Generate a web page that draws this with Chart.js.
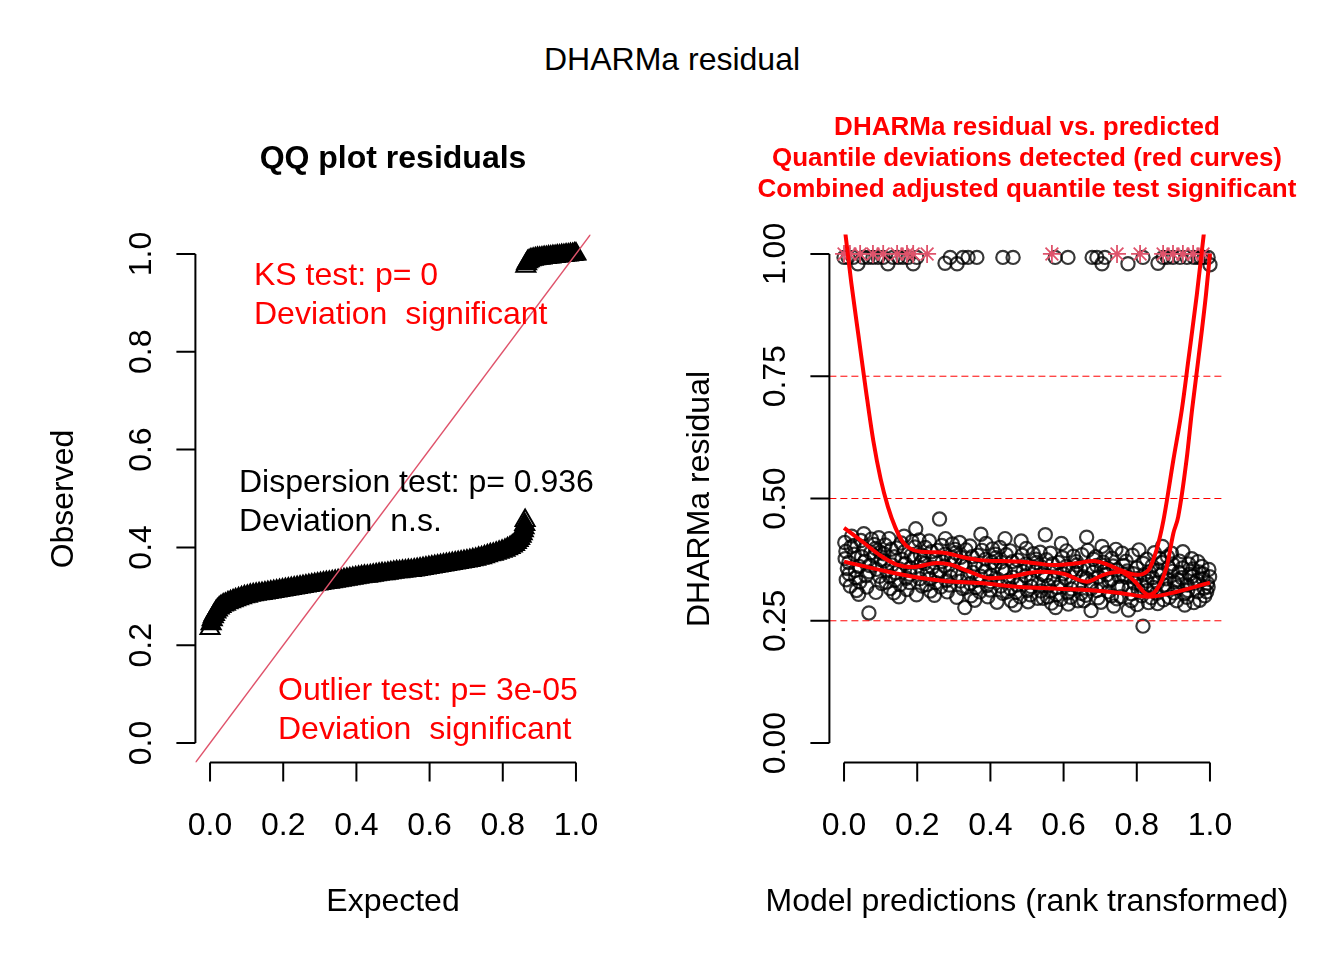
<!DOCTYPE html>
<html>
<head>
<meta charset="utf-8">
<script src="https://cdn.jsdelivr.net/npm/chart.js@4"></script>
<style>
html, body { margin: 0; padding: 0; background: #fff; }
#wrap { position: relative; width: 1344px; height: 960px; }
canvas { position: absolute; top: 0; }
#qq { left: 0; }
#res { left: 672px; }
#main { position: absolute; left: 0; top: 43px; width: 1344px; text-align: center;
        font: 32px/32px "Liberation Sans", Arial, sans-serif; color: #000; }
</style>
</head>
<body>
<div id="wrap">
  <div id="main">DHARMa residual</div>
  <canvas id="qq" width="672" height="960"></canvas>
  <canvas id="res" width="672" height="960"></canvas>
</div>
<script>
// ---- QQ plot (left) ----
// lower group of sorted residuals
const qqLowX = [0.000,0.003,0.006,0.009,0.012,0.016,0.020,0.025,0.030,0.036,0.042,0.049,0.056,0.063,0.070,0.078,0.086,0.094,0.102,0.110,0.118,0.126,0.134,0.142,0.150,0.158,0.166,0.174,0.182,0.190,0.198,0.206,0.214,0.222,0.230,0.238,0.246,0.254,0.262,0.270,0.278,0.286,0.294,0.302,0.310,0.318,0.326,0.334,0.342,0.350,0.358,0.366,0.374,0.382,0.390,0.398,0.406,0.414,0.422,0.430,0.438,0.446,0.454,0.462,0.470,0.478,0.486,0.494,0.502,0.510,0.518,0.526,0.534,0.542,0.550,0.558,0.566,0.574,0.582,0.590,0.598,0.606,0.614,0.622,0.630,0.638,0.646,0.654,0.662,0.670,0.678,0.686,0.694,0.702,0.710,0.718,0.726,0.734,0.742,0.750,0.758,0.766,0.774,0.782,0.790,0.798,0.806,0.813,0.820,0.826,0.832,0.837,0.842,0.846,0.850,0.853,0.856,0.858,0.860,0.861];
const qqLowY = [0.234,0.244,0.252,0.258,0.263,0.268,0.272,0.276,0.279,0.282,0.284,0.287,0.289,0.291,0.293,0.295,0.297,0.299,0.300,0.302,0.303,0.304,0.305,0.306,0.307,0.308,0.309,0.310,0.311,0.312,0.313,0.314,0.315,0.316,0.317,0.318,0.319,0.320,0.321,0.322,0.323,0.324,0.325,0.326,0.327,0.328,0.329,0.330,0.331,0.332,0.333,0.334,0.335,0.336,0.337,0.338,0.339,0.340,0.341,0.341,0.342,0.343,0.344,0.345,0.346,0.346,0.347,0.348,0.349,0.350,0.350,0.351,0.352,0.353,0.353,0.354,0.355,0.356,0.357,0.358,0.359,0.360,0.361,0.362,0.363,0.364,0.365,0.366,0.367,0.368,0.369,0.370,0.371,0.372,0.373,0.375,0.376,0.378,0.379,0.381,0.383,0.385,0.386,0.388,0.390,0.392,0.394,0.397,0.400,0.403,0.406,0.410,0.414,0.418,0.423,0.428,0.434,0.440,0.447,0.455];
// upper group (residuals near 1)
const qqHighX = [0.863,0.865,0.868,0.872,0.877,0.883,0.889,0.895,0.901,0.907,0.913,0.919,0.925,0.931,0.937,0.943,0.949,0.955,0.961,0.967,0.973,0.979,0.985,0.991,0.996,1.000];
const qqHighY = [0.975,0.980,0.984,0.986,0.988,0.989,0.990,0.991,0.991,0.992,0.993,0.993,0.994,0.994,0.995,0.995,0.996,0.996,0.997,0.997,0.998,0.998,0.999,0.999,1.000,1.000];
const qqXTicks = [0, 0.2, 0.4, 0.6, 0.8, 1.0];
const qqXLabels = ['0.0', '0.2', '0.4', '0.6', '0.8', '1.0'];
const qqYTicks = [0, 0.2, 0.4, 0.6, 0.8, 1.0];
const qqYLabels = ['0.0', '0.2', '0.4', '0.6', '0.8', '1.0'];

// ---- residual vs predicted (right) ----
const cloudPoints = [
 [0.003,0.377],[0.006,0.334],[0.002,0.410],[0.009,0.357],[0.005,0.392],
 [0.014,0.346],[0.019,0.401],[0.017,0.321],[0.013,0.369],[0.021,0.423],
 [0.028,0.386],[0.031,0.353],[0.034,0.312],[0.027,0.404],[0.032,0.338],
 [0.041,0.361],[0.046,0.414],[0.043,0.329],[0.048,0.381],[0.040,0.304],
 [0.055,0.396],[0.060,0.342],[0.057,0.372],[0.062,0.319],[0.054,0.428],
 [0.069,0.350],[0.073,0.389],[0.068,0.266],[0.075,0.417],[0.070,0.363],
 [0.083,0.406],[0.087,0.308],[0.082,0.383],[0.089,0.355],[0.086,0.398],
 [0.097,0.341],[0.101,0.375],[0.095,0.420],[0.103,0.326],[0.099,0.390],
 [0.110,0.372],[0.115,0.329],[0.112,0.405],[0.117,0.352],[0.109,0.387],
 [0.124,0.341],[0.129,0.396],[0.126,0.316],[0.131,0.364],[0.123,0.418],
 [0.138,0.381],[0.142,0.348],[0.136,0.307],[0.144,0.399],[0.140,0.333],
 [0.151,0.356],[0.156,0.409],[0.153,0.324],[0.158,0.376],[0.150,0.299],
 [0.165,0.391],[0.170,0.337],[0.167,0.367],[0.172,0.314],[0.164,0.423],
 [0.180,0.345],[0.184,0.384],[0.179,0.328],[0.186,0.412],[0.181,0.358],
 [0.194,0.401],[0.198,0.303],[0.192,0.378],[0.200,0.350],[0.196,0.438],
 [0.207,0.336],[0.211,0.370],[0.205,0.415],[0.213,0.321],[0.209,0.385],
 [0.220,0.367],[0.225,0.324],[0.222,0.400],[0.227,0.347],[0.219,0.382],
 [0.234,0.336],[0.239,0.391],[0.236,0.311],[0.241,0.359],[0.233,0.413],
 [0.249,0.376],[0.253,0.343],[0.247,0.302],[0.255,0.394],[0.251,0.328],
 [0.262,0.351],[0.267,0.404],[0.264,0.319],[0.269,0.371],[0.261,0.458],
 [0.276,0.386],[0.280,0.332],[0.275,0.362],[0.282,0.309],[0.277,0.418],
 [0.290,0.340],[0.294,0.379],[0.288,0.323],[0.296,0.407],[0.291,0.353],
 [0.304,0.396],[0.308,0.298],[0.302,0.373],[0.310,0.345],[0.305,0.389],
 [0.318,0.331],[0.322,0.365],[0.316,0.410],[0.324,0.316],[0.319,0.380],
 [0.331,0.362],[0.336,0.319],[0.333,0.395],[0.338,0.342],[0.330,0.277],
 [0.345,0.326],[0.350,0.381],[0.347,0.301],[0.352,0.349],[0.344,0.403],
 [0.359,0.366],[0.363,0.333],[0.357,0.292],[0.365,0.384],[0.360,0.318],
 [0.373,0.341],[0.377,0.394],[0.371,0.309],[0.379,0.361],[0.374,0.427],
 [0.387,0.376],[0.391,0.322],[0.386,0.352],[0.393,0.299],[0.388,0.408],
 [0.400,0.330],[0.404,0.369],[0.399,0.313],[0.406,0.397],[0.401,0.343],
 [0.414,0.386],[0.418,0.288],[0.412,0.363],[0.420,0.335],[0.415,0.379],
 [0.428,0.321],[0.432,0.355],[0.426,0.400],[0.434,0.306],[0.429,0.370],
 [0.441,0.352],[0.446,0.309],[0.443,0.385],[0.448,0.332],[0.440,0.418],
 [0.455,0.316],[0.460,0.371],[0.457,0.291],[0.462,0.339],[0.454,0.393],
 [0.469,0.356],[0.473,0.323],[0.468,0.282],[0.475,0.374],[0.470,0.308],
 [0.483,0.331],[0.487,0.384],[0.481,0.299],[0.489,0.351],[0.484,0.413],
 [0.497,0.366],[0.501,0.312],[0.496,0.342],[0.503,0.289],[0.498,0.398],
 [0.511,0.320],[0.515,0.359],[0.509,0.303],[0.517,0.387],[0.512,0.333],
 [0.525,0.376],[0.529,0.296],[0.523,0.353],[0.531,0.325],[0.526,0.369],
 [0.538,0.311],[0.542,0.345],[0.536,0.390],[0.544,0.296],[0.539,0.360],
 [0.551,0.342],[0.556,0.299],[0.553,0.375],[0.558,0.322],[0.550,0.426],
 [0.565,0.311],[0.570,0.366],[0.567,0.286],[0.572,0.334],[0.564,0.388],
 [0.580,0.351],[0.584,0.318],[0.578,0.277],[0.586,0.369],[0.581,0.303],
 [0.593,0.326],[0.597,0.379],[0.592,0.294],[0.599,0.346],[0.594,0.408],
 [0.607,0.361],[0.611,0.307],[0.605,0.337],[0.613,0.284],[0.608,0.393],
 [0.621,0.315],[0.625,0.354],[0.619,0.298],[0.627,0.382],[0.622,0.328],
 [0.635,0.371],[0.639,0.291],[0.633,0.348],[0.641,0.320],[0.636,0.364],
 [0.648,0.306],[0.653,0.340],[0.650,0.385],[0.655,0.291],[0.647,0.355],
 [0.662,0.337],[0.666,0.394],[0.661,0.302],[0.668,0.358],[0.663,0.421],
 [0.676,0.316],[0.680,0.349],[0.675,0.271],[0.682,0.376],[0.677,0.329],
 [0.690,0.363],[0.694,0.297],[0.688,0.381],[0.696,0.340],[0.691,0.312],
 [0.704,0.325],[0.708,0.370],[0.702,0.288],[0.710,0.351],[0.705,0.402],
 [0.718,0.344],[0.722,0.309],[0.716,0.389],[0.724,0.331],[0.719,0.358],
 [0.731,0.301],[0.735,0.362],[0.730,0.335],[0.737,0.280],[0.732,0.378],
 [0.745,0.354],[0.749,0.318],[0.743,0.396],[0.751,0.341],[0.746,0.295],
 [0.759,0.320],[0.763,0.363],[0.757,0.299],[0.765,0.344],[0.760,0.388],
 [0.773,0.339],[0.777,0.272],[0.771,0.372],[0.779,0.316],[0.774,0.352],
 [0.786,0.305],[0.791,0.346],[0.788,0.384],[0.793,0.327],[0.785,0.291],
 [0.800,0.358],[0.804,0.313],[0.799,0.336],[0.806,0.395],[0.801,0.283],
 [0.814,0.322],[0.818,0.367],[0.817,0.239],[0.820,0.344],[0.813,0.301],
 [0.828,0.331],[0.832,0.287],[0.827,0.376],[0.834,0.350],[0.829,0.312],
 [0.842,0.362],[0.846,0.318],[0.840,0.297],[0.848,0.389],[0.843,0.338],
 [0.856,0.327],[0.860,0.354],[0.854,0.306],[0.862,0.377],[0.857,0.285],
 [0.869,0.346],[0.873,0.293],[0.868,0.369],[0.875,0.323],[0.870,0.402],
 [0.883,0.315],[0.887,0.359],[0.881,0.336],[0.889,0.298],[0.884,0.381],
 [0.897,0.351],[0.901,0.307],[0.895,0.388],[0.903,0.329],[0.898,0.366],
 [0.911,0.319],[0.915,0.349],[0.909,0.291],[0.917,0.372],[0.912,0.334],
 [0.925,0.358],[0.929,0.305],[0.923,0.338],[0.931,0.282],[0.926,0.391],
 [0.938,0.323],[0.942,0.366],[0.937,0.298],[0.944,0.345],[0.939,0.312],
 [0.952,0.341],[0.956,0.287],[0.950,0.377],[0.958,0.327],[0.953,0.356],
 [0.966,0.309],[0.970,0.350],[0.965,0.333],[0.972,0.292],[0.967,0.371],
 [0.980,0.346],[0.984,0.317],[0.978,0.361],[0.986,0.301],[0.981,0.336],
 [0.993,0.327],[0.997,0.355],[0.991,0.309],[0.999,0.340],[0.995,0.319]
];
const topX = [0.000,0.011,0.025,0.038,0.052,0.066,0.079,0.093,0.107,0.120,0.134,0.148,0.161,0.175,0.189,0.199,0.276,0.290,0.309,0.325,0.339,0.363,0.434,0.462,0.577,0.612,0.678,0.691,0.705,0.713,0.776,0.817,0.858,0.872,0.883,0.899,0.918,0.937,0.956,0.967,0.975,0.984,0.995,1.000];
const topY = [0.993,0.993,0.993,0.980,0.993,0.993,0.993,0.993,0.993,0.980,0.993,0.993,0.993,0.993,0.980,0.993,0.981,0.993,0.980,0.993,0.993,0.993,0.993,0.993,0.993,0.993,0.993,0.993,0.980,0.993,0.980,0.993,0.981,0.993,0.993,0.993,0.993,0.993,0.993,0.993,0.993,0.993,0.993,0.978];
const outlierX = [0.000,0.016,0.044,0.079,0.107,0.145,0.172,0.189,0.227,0.568,0.746,0.809,0.872,0.899,0.926,0.954,0.981];
const outlierY = [1,1,1,1,1,1,1,1,1,1,1,1,1,1,1,1,1];
const q75X = [0.000,0.004,0.020,0.040,0.060,0.080,0.100,0.120,0.140,0.160,0.180,0.210,0.250,0.281,0.320,0.372,0.430,0.481,0.530,0.572,0.630,0.681,0.720,0.754,0.800,0.832,0.854,0.873,0.900,0.923,0.941,0.964,0.983,1.000];
const q75Y = [1.065,1.040,0.940,0.830,0.720,0.618,0.540,0.483,0.441,0.412,0.398,0.391,0.390,0.388,0.381,0.374,0.372,0.371,0.367,0.364,0.367,0.372,0.365,0.354,0.344,0.354,0.395,0.456,0.579,0.681,0.783,0.916,1.040,1.150];
const q50X = [0.000,0.025,0.053,0.098,0.144,0.189,0.253,0.290,0.344,0.399,0.454,0.508,0.536,0.599,0.663,0.709,0.754,0.791,0.832,0.854,0.882,0.900,0.913,0.936,0.951,0.968,0.989,1.000];
const q50Y = [0.440,0.426,0.410,0.384,0.365,0.360,0.368,0.365,0.350,0.337,0.340,0.348,0.350,0.346,0.330,0.344,0.350,0.333,0.303,0.313,0.361,0.429,0.462,0.579,0.681,0.783,0.916,1.000];
const q25X = [0.000,0.098,0.189,0.281,0.372,0.481,0.572,0.663,0.754,0.832,0.891,1.000];
const q25Y = [0.371,0.354,0.340,0.331,0.327,0.319,0.316,0.313,0.307,0.299,0.306,0.328];
const refLevels = [0.25, 0.5, 0.75];
const resXTicks = [0, 0.2, 0.4, 0.6, 0.8, 1.0];
const resXLabels = ['0.0', '0.2', '0.4', '0.6', '0.8', '1.0'];
const resYTicks = [0, 0.25, 0.5, 0.75, 1.0];
const resYLabels = ['0.00', '0.25', '0.50', '0.75', '1.00'];

const FONT = '"Liberation Sans", Arial, sans-serif';
const pts = (xs, ys) => xs.map((x, i) => ({ x: x, y: ys[i] }));

// R-style axes, tick labels and free text
const rAxes = {
  id: 'rAxes',
  afterDraw(chart, args, o) {
    const ctx = chart.ctx, a = chart.chartArea;
    const xs = chart.scales.x, ys = chart.scales.y;
    const bx = o.xTicks.map(v => xs.getPixelForValue(v));
    const ly = o.yTicks.map(v => ys.getPixelForValue(v));
    ctx.save();
    ctx.strokeStyle = '#000';
    ctx.lineWidth = 2;
    ctx.beginPath();
    ctx.moveTo(bx[0], a.bottom); ctx.lineTo(bx[bx.length - 1], a.bottom);
    bx.forEach(p => { ctx.moveTo(p, a.bottom); ctx.lineTo(p, a.bottom + 19); });
    ctx.moveTo(a.left, ly[0]); ctx.lineTo(a.left, ly[ly.length - 1]);
    ly.forEach(p => { ctx.moveTo(a.left, p); ctx.lineTo(a.left - 19, p); });
    ctx.stroke();

    ctx.fillStyle = '#000';
    ctx.font = '32px ' + FONT;
    ctx.textAlign = 'center';
    ctx.textBaseline = 'alphabetic';
    bx.forEach((p, i) => ctx.fillText(o.xLabels[i], p, a.bottom + 72));
    ly.forEach((p, i) => {
      ctx.save();
      ctx.translate(a.left - 44, p);
      ctx.rotate(-Math.PI / 2);
      ctx.fillText(o.yLabels[i], 0, 0);
      ctx.restore();
    });

    o.texts.forEach(t => {
      ctx.save();
      ctx.font = (t.bold ? 'bold ' : '') + (t.size || 32) + 'px ' + FONT;
      ctx.fillStyle = t.color || '#000';
      ctx.textAlign = t.align || 'left';
      ctx.translate(t.x, t.y);
      if (t.rot) ctx.rotate(-Math.PI / 2);
      ctx.fillText(t.text, 0, 0);
      ctx.restore();
    });
    ctx.restore();
  }
};

const baseScales = {
  x: { type: 'linear', min: -0.04, max: 1.04, display: false },
  y: { type: 'linear', min: -0.04, max: 1.04, display: false }
};

// left panel: end triangles stay open, the rest overlap into a solid band
const triangles = (xs, ys, openLast, order) => ({
  data: pts(xs, ys), pointStyle: 'triangle', pointRadius: 11,
  pointBorderColor: '#000', pointBorderWidth: 2, order: order,
  pointBackgroundColor: c => (c.dataIndex === 0 || (openLast && c.dataIndex === xs.length - 1)) ? 'rgba(0,0,0,0)' : '#000'
});
new Chart(document.getElementById('qq'), {
  type: 'scatter',
  data: {
    datasets: [
      { data: [{ x: -0.04, y: -0.04 }, { x: 1.04, y: 1.04 }], showLine: true,
        borderColor: '#DF536B', borderWidth: 1.5, pointRadius: 0, order: 0 },
      triangles(qqLowX, qqLowY, true, 1),
      triangles(qqHighX, qqHighY, false, 2)
    ]
  },
  options: {
    responsive: false, animation: false, events: [],
    layout: { padding: { left: 195.4, right: 81.4, top: 234.4, bottom: 197.4 } },
    scales: baseScales,
    plugins: {
      legend: { display: false }, tooltip: { enabled: false },
      rAxes: {
        xTicks: qqXTicks, xLabels: qqXLabels, yTicks: qqYTicks, yLabels: qqYLabels,
        texts: [
          { text: 'QQ plot residuals', x: 393, y: 168, align: 'center', bold: true },
          { text: 'KS test: p= 0', x: 254, y: 285, color: '#FF0000' },
          { text: 'Deviation  significant', x: 254, y: 324, color: '#FF0000' },
          { text: 'Dispersion test: p= 0.936', x: 239, y: 492 },
          { text: 'Deviation  n.s.', x: 239, y: 531 },
          { text: 'Outlier test: p= 3e-05', x: 278, y: 700, color: '#FF0000' },
          { text: 'Deviation  significant', x: 278, y: 739, color: '#FF0000' },
          { text: 'Expected', x: 393, y: 911, align: 'center' },
          { text: 'Observed', x: 73, y: 499, align: 'center', rot: true }
        ]
      }
    }
  },
  plugins: [rAxes]
});

// right panel
const curve = (xs, ys) => ({ data: pts(xs, ys), showLine: true, borderColor: '#FF0000',
  borderWidth: 4, pointRadius: 0, cubicInterpolationMode: 'monotone', order: 0 });
const refSets = refLevels.map(h => ({ data: [{ x: -0.04, y: h }, { x: 1.04, y: h }], showLine: true,
  borderColor: '#FF0000', borderWidth: 1, borderDash: [7, 4], pointRadius: 0, order: 2 }));
const circleStyle = { pointStyle: 'circle', pointRadius: 6.6, pointBorderWidth: 2.2,
  pointBorderColor: 'rgba(0,0,0,0.78)', pointBackgroundColor: 'rgba(0,0,0,0)', order: 3 };

new Chart(document.getElementById('res'), {
  type: 'scatter',
  data: {
    datasets: [
      curve(q75X, q75Y), curve(q50X, q50Y), curve(q25X, q25Y),
      { data: pts(outlierX, outlierY), pointStyle: 'star', pointRadius: 9,
        pointBorderColor: '#DF536B', pointBorderWidth: 1.8, order: 1 },
      ...refSets,
      Object.assign({ data: pts(topX, topY) }, circleStyle),
      Object.assign({ data: cloudPoints.map(p => ({ x: p[0], y: p[1] })) }, circleStyle)
    ]
  },
  options: {
    responsive: false, animation: false, events: [],
    layout: { padding: { left: 157.4, right: 119.4, top: 234.4, bottom: 197.4 } },
    scales: baseScales,
    plugins: {
      legend: { display: false }, tooltip: { enabled: false },
      rAxes: {
        xTicks: resXTicks, xLabels: resXLabels, yTicks: resYTicks, yLabels: resYLabels,
        texts: [
          { text: 'DHARMa residual vs. predicted', x: 355, y: 135, align: 'center', bold: true, size: 26, color: '#FF0000' },
          { text: 'Quantile deviations detected (red curves)', x: 355, y: 166, align: 'center', bold: true, size: 26, color: '#FF0000' },
          { text: 'Combined adjusted quantile test significant', x: 355, y: 197, align: 'center', bold: true, size: 26, color: '#FF0000' },
          { text: 'Model predictions (rank transformed)', x: 355, y: 911, align: 'center' },
          { text: 'DHARMa residual', x: 37, y: 499, align: 'center', rot: true }
        ]
      }
    }
  },
  plugins: [rAxes]
});
</script>
</body>
</html>
